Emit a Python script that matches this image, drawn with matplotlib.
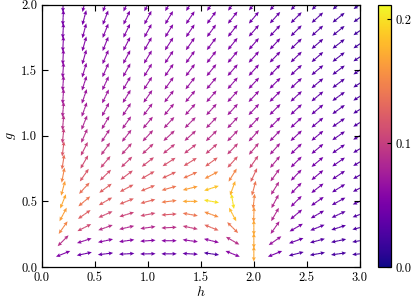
import numpy as np
import matplotlib
matplotlib.use("Agg")
import matplotlib.pyplot as plt
from matplotlib.colors import Normalize
from matplotlib.cm import ScalarMappable

plt.rcParams['font.family'] = 'serif'
plt.rcParams['font.serif'] = ['cmr10']
plt.rcParams['mathtext.fontset'] = 'cm'
plt.rcParams['axes.formatter.use_mathtext'] = True

# grid coordinates
h_vals = [0.2, 0.4, 0.6, 0.8, 1.0, 1.2, 1.4, 1.6, 1.8, 2.0, 2.2, 2.4, 2.6, 2.8, 3.0]
g_vals = [0.1, 0.2, 0.3, 0.4, 0.5, 0.6, 0.7, 0.8, 0.9, 1.0,
          1.1, 1.2, 1.3, 1.4, 1.5, 1.6, 1.7, 1.8, 1.9, 2.0]

# arrow orientation (degrees), rows = g_vals, cols = h_vals
angle_deg = [
    [22, 12, 7, 3, 1, 0, -3, -8, -22, 90, 22, 14, 10, 8, 6],
    [45, 18, 12, 8, 4, 0, -8, -14, -30, 90, 35, 20, 15, 12, 10],
    [55, 27, 20, 13, 8, 3, -12, -22, -45, 90, 55, 30, 22, 18, 15],
    [62, 35, 24, 17, 11, 4, -10, -20, -62, 88, 60, 40, 30, 25, 21],
    [68, 40, 30, 22, 15, 7, 0, -10, -80, 84, 62, 45, 35, 29, 24],
    [75, 47, 36, 28, 22, 16, 14, 18, 70, 75, 58, 46, 38, 32, 27],
    [79, 55, 44, 37, 30, 25, 24, 28, 58, 65, 54, 46, 40, 34, 30],
    [81, 60, 50, 44, 38, 33, 32, 36, 48, 55, 50, 45, 40, 35, 31],
    [83, 63, 54, 48, 43, 39, 38, 41, 46, 50, 48, 44, 40, 35, 31],
    [84, 66, 57, 52, 47, 43, 42, 44, 46, 48, 46, 43, 40, 35, 31],
    [85, 68, 60, 55, 50, 47, 45, 46, 47, 47, 45, 43, 40, 35, 32],
    [85, 70, 62, 57, 53, 50, 48, 48, 48, 47, 45, 43, 40, 36, 32],
    [86, 71, 64, 59, 55, 52, 50, 49, 48, 47, 45, 43, 40, 36, 33],
    [86, 72, 65, 60, 57, 54, 52, 50, 49, 47, 45, 43, 40, 37, 33],
    [86, 73, 66, 61, 58, 55, 53, 51, 49, 48, 46, 43, 40, 37, 34],
    [87, 74, 67, 62, 59, 56, 54, 52, 50, 48, 46, 44, 41, 38, 34],
    [87, 74, 68, 63, 60, 57, 55, 53, 51, 49, 47, 44, 41, 38, 35],
    [87, 75, 68, 64, 61, 58, 56, 54, 52, 49, 47, 45, 42, 39, 35],
    [87, 75, 69, 65, 62, 59, 56, 54, 52, 50, 48, 45, 42, 39, 36],
    [88, 76, 70, 65, 62, 59, 57, 55, 53, 50, 48, 45, 43, 40, 36],
]

# flow magnitude (colour), rows = g_vals, cols = h_vals
magnitude = [
    [0.055, 0.045, 0.042, 0.04, 0.04, 0.04, 0.04, 0.03, 0.06, 0.17, 0.05, 0.032, 0.027, 0.025, 0.024],
    [0.09, 0.065, 0.06, 0.058, 0.058, 0.06, 0.065, 0.065, 0.09, 0.17, 0.07, 0.042, 0.032, 0.028, 0.026],
    [0.15, 0.11, 0.09, 0.085, 0.085, 0.09, 0.1, 0.13, 0.14, 0.17, 0.08, 0.05, 0.038, 0.032, 0.028],
    [0.165, 0.125, 0.11, 0.105, 0.11, 0.12, 0.14, 0.155, 0.18, 0.16, 0.085, 0.054, 0.042, 0.035, 0.03],
    [0.17, 0.14, 0.125, 0.125, 0.13, 0.145, 0.17, 0.2, 0.2, 0.15, 0.086, 0.058, 0.045, 0.037, 0.032],
    [0.165, 0.135, 0.125, 0.125, 0.13, 0.14, 0.165, 0.185, 0.175, 0.14, 0.086, 0.06, 0.047, 0.038, 0.033],
    [0.15, 0.12, 0.115, 0.115, 0.12, 0.125, 0.14, 0.155, 0.15, 0.125, 0.085, 0.061, 0.048, 0.039, 0.033],
    [0.135, 0.11, 0.105, 0.105, 0.11, 0.115, 0.12, 0.125, 0.12, 0.108, 0.082, 0.06, 0.048, 0.039, 0.033],
    [0.12, 0.1, 0.095, 0.095, 0.097, 0.1, 0.103, 0.105, 0.1, 0.093, 0.077, 0.058, 0.047, 0.038, 0.032],
    [0.1, 0.088, 0.085, 0.085, 0.087, 0.088, 0.089, 0.089, 0.086, 0.08, 0.07, 0.056, 0.045, 0.037, 0.031],
    [0.09, 0.082, 0.08, 0.08, 0.081, 0.082, 0.082, 0.082, 0.079, 0.074, 0.065, 0.053, 0.042, 0.035, 0.03],
    [0.082, 0.077, 0.075, 0.075, 0.076, 0.077, 0.077, 0.076, 0.073, 0.068, 0.06, 0.05, 0.04, 0.033, 0.028],
    [0.075, 0.072, 0.071, 0.071, 0.072, 0.072, 0.072, 0.071, 0.068, 0.064, 0.056, 0.047, 0.038, 0.032, 0.027],
    [0.069, 0.067, 0.067, 0.067, 0.068, 0.068, 0.068, 0.067, 0.064, 0.06, 0.053, 0.044, 0.036, 0.03, 0.026],
    [0.064, 0.063, 0.063, 0.064, 0.064, 0.064, 0.064, 0.063, 0.06, 0.056, 0.05, 0.042, 0.035, 0.029, 0.025],
    [0.06, 0.06, 0.06, 0.061, 0.061, 0.061, 0.061, 0.06, 0.057, 0.053, 0.047, 0.04, 0.033, 0.028, 0.024],
    [0.056, 0.057, 0.057, 0.058, 0.058, 0.058, 0.058, 0.057, 0.054, 0.05, 0.045, 0.038, 0.032, 0.027, 0.023],
    [0.052, 0.054, 0.055, 0.055, 0.056, 0.056, 0.055, 0.054, 0.052, 0.048, 0.043, 0.036, 0.031, 0.026, 0.022],
    [0.049, 0.051, 0.052, 0.053, 0.053, 0.053, 0.053, 0.052, 0.05, 0.046, 0.041, 0.035, 0.03, 0.025, 0.021],
    [0.046, 0.049, 0.05, 0.051, 0.051, 0.051, 0.051, 0.05, 0.048, 0.044, 0.039, 0.033, 0.028, 0.024, 0.02],
]

cbar_ticks = [0.0, 0.1, 0.2]
vmax = 0.212

H, G = np.meshgrid(h_vals, g_vals)
th = np.deg2rad(np.array(angle_deg, dtype=float))
U = np.cos(th)
V = np.sin(th)
M = np.array(magnitude)

fig = plt.figure(figsize=(4.15, 3.02), dpi=100)
ax = fig.add_axes([0.101, 0.116, 0.766, 0.869])
cax = fig.add_axes([0.911, 0.116, 0.031, 0.869])

norm = Normalize(vmin=0.0, vmax=vmax)
cmap = plt.get_cmap('plasma')
qkw = dict(cmap=cmap, norm=norm, angles='uv', scale_units='inches',
           scale=1 / 0.077, units='dots', width=1.1,
           headwidth=3.6, headlength=4.0, headaxislength=3.5, pivot='tail')
ax.quiver(H, G, U, V, M, **qkw)
ax.quiver(H, G, -U, -V, M, **qkw)

ax.set_xlim(0, 3)
ax.set_ylim(0, 2)
ax.set_xticks([0.0, 0.5, 1.0, 1.5, 2.0, 2.5, 3.0])
ax.set_yticks([0.0, 0.5, 1.0, 1.5, 2.0])
ax.xaxis.set_major_formatter(matplotlib.ticker.FormatStrFormatter('%.1f'))
ax.yaxis.set_major_formatter(matplotlib.ticker.FormatStrFormatter('%.1f'))
ax.tick_params(direction='in', top=True, right=True, length=4, width=0.8,
               labelsize=9)
for s in ax.spines.values():
    s.set_linewidth(0.9)
ax.set_xlabel(r'$h$', fontsize=10, labelpad=1)
ax.set_ylabel(r'$g$', fontsize=10, labelpad=2)

cb = fig.colorbar(ScalarMappable(norm=norm, cmap=cmap), cax=cax, ticks=cbar_ticks)
cb.ax.yaxis.set_major_formatter(matplotlib.ticker.FormatStrFormatter('%.1f'))
cb.ax.tick_params(direction='in', length=3, width=0.8, labelsize=9)
cb.outline.set_linewidth(0.9)

fig.savefig('out.png', dpi=100)
